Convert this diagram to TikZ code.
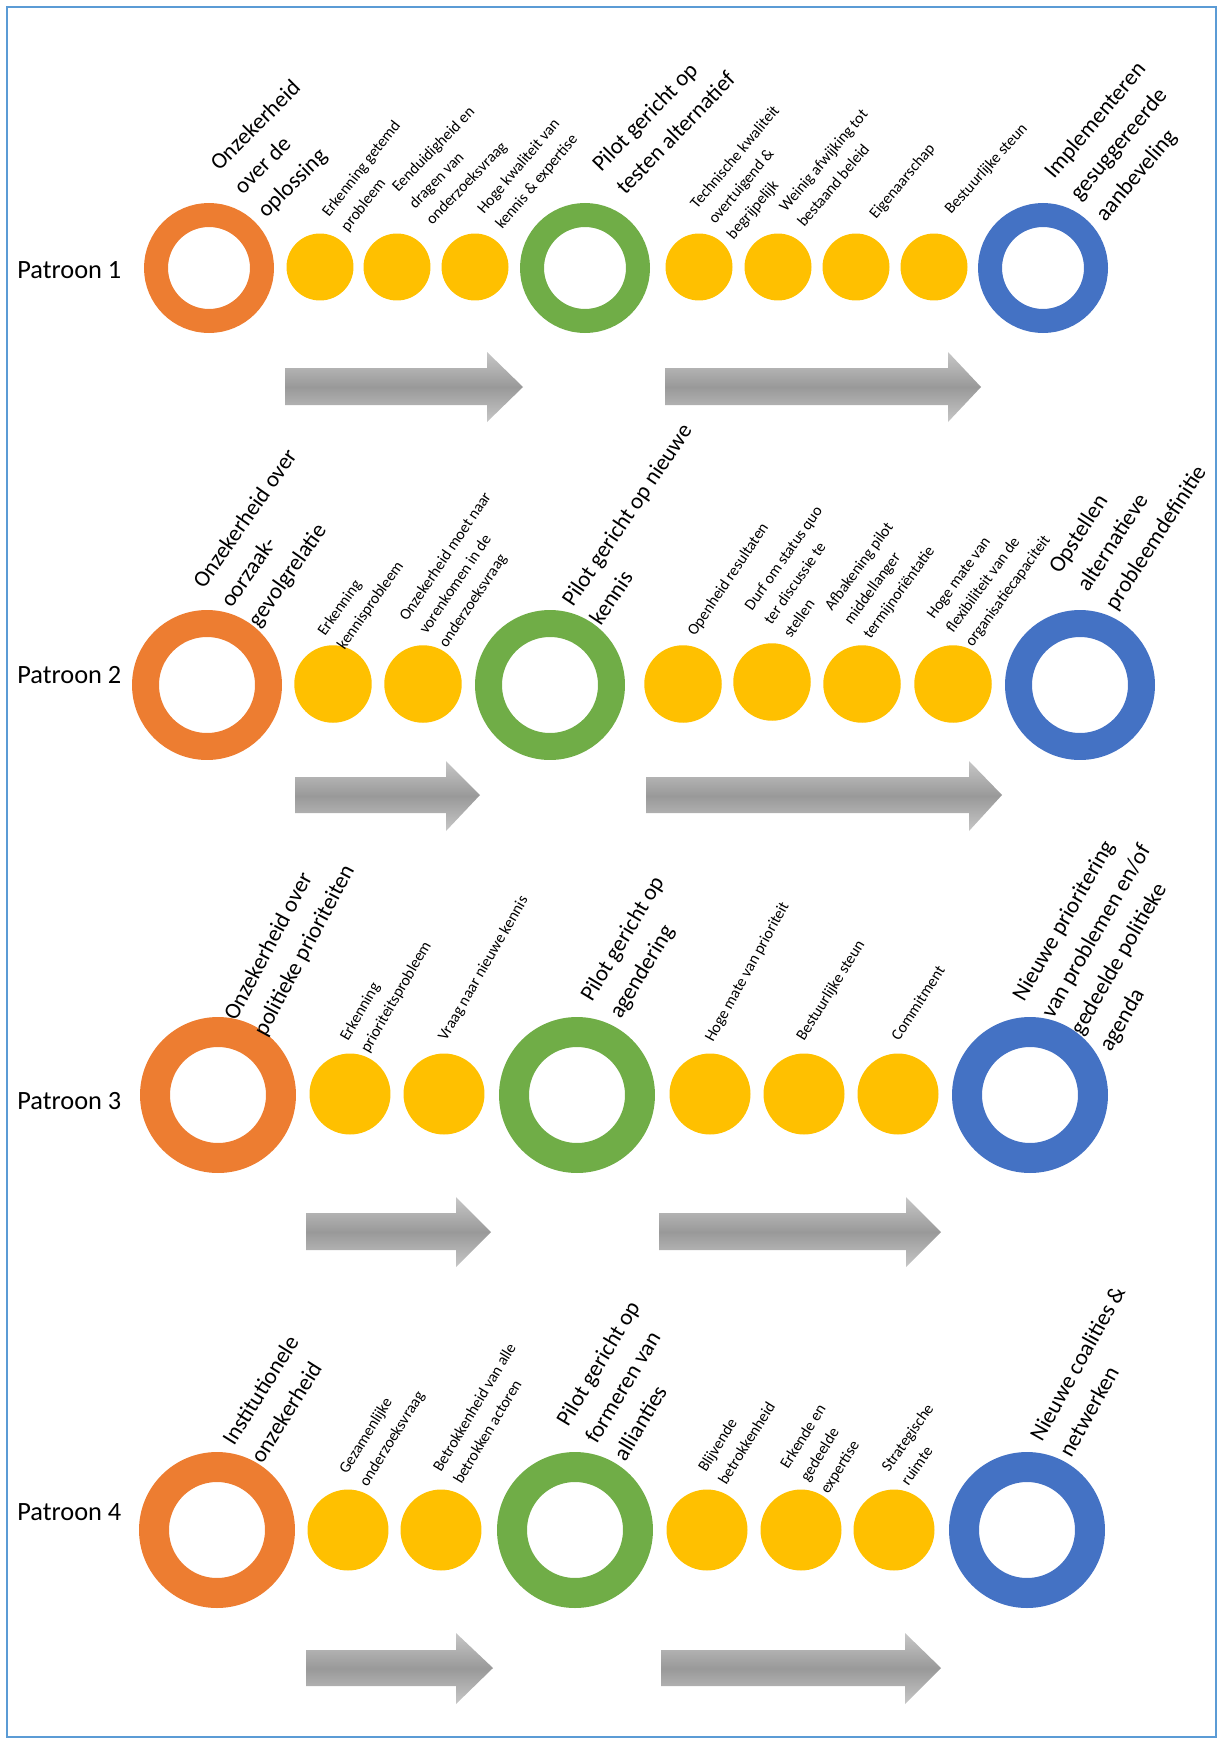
\documentclass[tikz,border=0pt]{standalone}
\usepackage{fontspec}
\setmainfont{Carlito}
\definecolor{ringorange}{RGB}{237,125,49}
\definecolor{ringgreen}{RGB}{112,173,71}
\definecolor{ringblue}{RGB}{68,114,196}
\definecolor{dotyellow}{RGB}{255,192,0}
\definecolor{frameblue}{RGB}{91,155,213}
\newcommand{\lbllines}[1]{\begin{tabular}[t]{@{}l@{}}#1\end{tabular}}

\tikzset{
  ring/.style={circle, draw, inner sep=0pt},
  yellowdot/.style={circle, fill=dotyellow, inner sep=0pt},
  biglbl/.style={rotate=#1, anchor=base west, inner sep=0pt, font=\fontsize{13}{19}\selectfont},
  smalllbl/.style={rotate=#1, anchor=base west, inner sep=0pt, font=\fontsize{9}{13.5}\selectfont},
  patroon/.style={anchor=west, inner sep=0pt, font=\fontsize{15}{18}\selectfont},
  blockarrow/.style={top color=black!22, bottom color=black!22, middle color=black!40},
}

\begin{document}
\begin{tikzpicture}[x=0.02cm, y=-0.02cm]

  \useasboundingbox (0,0) rectangle (1223,1744);
  % Frame
  \draw[frameblue, line width=0.8pt] (7,7) rectangle (1216,1737);

  % ---- Patroon 1 ----
  \node[patroon] (pat1) at (17,270) {Patroon 1};
  \node[ring, draw=ringorange, line width=0.48cm, minimum size=2.12cm] (o1) at (209,268) {};
  \node[ring, draw=ringgreen,  line width=0.48cm, minimum size=2.12cm] (g1) at (585,268) {};
  \node[ring, draw=ringblue,   line width=0.48cm, minimum size=2.12cm] (b1) at (1043,268) {};
  \node[yellowdot, minimum size=1.34cm] (y1a) at (320,267) {};
  \node[yellowdot, minimum size=1.34cm] (y1b) at (397,267) {};
  \node[yellowdot, minimum size=1.34cm] (y1c) at (475,267) {};
  \node[yellowdot, minimum size=1.34cm] (y1d) at (699,267) {};
  \node[yellowdot, minimum size=1.34cm] (y1e) at (778,267) {};
  \node[yellowdot, minimum size=1.34cm] (y1f) at (856,267) {};
  \node[yellowdot, minimum size=1.34cm] (y1g) at (934,267) {};
  % Labels
  \node[biglbl=45]   (lo1)  at (219,172) {\lbllines{Onzekerheid\\over de\\oplossing}};
  \node[smalllbl=52] (ly1a) at (329,218) {\lbllines{Erkenning getemd\\probleem}};
  \node[smalllbl=46] (ly1b) at (398,193) {\lbllines{Eenduidigheid en\\dragen van\\onderzoeksvraag}};
  \node[smalllbl=50] (ly1c) at (484,215) {\lbllines{Hoge kwaliteit van\\kennis \& expertise}};
  \node[biglbl=46]   (lg1)  at (601,173) {\lbllines{Pilot gericht op\\testen alternatief}};
  \node[smalllbl=50] (ly1d) at (697,210) {\lbllines{Technische kwaliteit\\overtuigend \&\\begrijpelijk}};
  \node[smalllbl=50] (ly1e) at (786,213) {\lbllines{Weinig afwijking tot\\bestaand beleid}};
  \node[smalllbl=50] (ly1f) at (876,220) {Eigenaarschap};
  \node[smalllbl=48] (ly1g) at (951,215) {Bestuurlijke steun};
  \node[biglbl=50]   (lb1)  at (1054,180) {\lbllines{Implementeren\\gesuggereerde\\aanbeveling}};
  % Arrows
  \shade[blockarrow] (285,368) -- (487,368) -- (487,352) -- (523,387) -- (487,422) -- (487,405) -- (285,405) -- cycle;
  \shade[blockarrow] (665,368) -- (948,368) -- (948,352) -- (981,387) -- (948,422) -- (948,405) -- (665,405) -- cycle;

  % ---- Patroon 2 ----
  \node[patroon] (pat2) at (17,675) {Patroon 2};
  \node[ring, draw=ringorange, line width=0.54cm, minimum size=2.46cm] (o2) at (207,685) {};
  \node[ring, draw=ringgreen,  line width=0.54cm, minimum size=2.46cm] (g2) at (550,685) {};
  \node[ring, draw=ringblue,   line width=0.54cm, minimum size=2.46cm] (b2) at (1080,685) {};
  \node[yellowdot, minimum size=1.55cm] (y2a) at (333,684) {};
  \node[yellowdot, minimum size=1.55cm] (y2b) at (423,684) {};
  \node[yellowdot, minimum size=1.55cm] (y2c) at (683,684) {};
  \node[yellowdot, minimum size=1.55cm] (y2d) at (772,682) {};
  \node[yellowdot, minimum size=1.55cm] (y2e) at (862,684) {};
  \node[yellowdot, minimum size=1.55cm] (y2f) at (953,684) {};
  % Labels
  \node[biglbl=55]   (lo2)  at (204,590) {\lbllines{Onzekerheid over\\oorzaak-\\gevolgrelatie}};
  \node[smalllbl=55] (ly2a) at (325,637) {\lbllines{Erkenning\\kennisprobleem}};
  \node[smalllbl=56] (ly2b) at (407,622) {\lbllines{Onzekerheid moet naar\\vorenkomen in de\\onderzoeksvraag}};
  \node[biglbl=56]   (lg2)  at (573,608) {\lbllines{Pilot gericht op nieuwe\\kennis}};
  \node[smalllbl=56] (ly2c) at (695,637) {Openheid resultaten};
  \node[smalllbl=55] (ly2d) at (752,612) {\lbllines{Durf om status quo\\ter discussie te\\stellen}};
  \node[smalllbl=54] (ly2e) at (832,612) {\lbllines{Afbakening pilot\\middellanger\\termijnoriëntatie}};
  \node[smalllbl=54] (ly2f) at (934,620) {\lbllines{Hoge mate van\\flexibiliteit van de\\organisatiecapaciteit}};
  \node[biglbl=57]   (lb2)  at (1060,575) {\lbllines{Opstellen\\alternatieve\\probleemdefinitie}};
  % Arrows
  \shade[blockarrow] (295,777) -- (446,777) -- (446,761) -- (480,795) -- (446,831) -- (446,813) -- (295,813) -- cycle;
  \shade[blockarrow] (646,777) -- (969,777) -- (969,761) -- (1002,795) -- (969,831) -- (969,813) -- (646,813) -- cycle;

  % ---- Patroon 3 ----
  \node[patroon] (pat3) at (17,1101) {Patroon 3};
  \node[ring, draw=ringorange, line width=0.60cm, minimum size=2.52cm] (o3) at (218,1095) {};
  \node[ring, draw=ringgreen,  line width=0.60cm, minimum size=2.52cm] (g3) at (577,1095) {};
  \node[ring, draw=ringblue,   line width=0.60cm, minimum size=2.52cm] (b3) at (1030,1095) {};
  \node[yellowdot, minimum size=1.62cm] (y3a) at (350,1094) {};
  \node[yellowdot, minimum size=1.62cm] (y3b) at (444,1094) {};
  \node[yellowdot, minimum size=1.62cm] (y3c) at (710,1094) {};
  \node[yellowdot, minimum size=1.62cm] (y3d) at (804,1094) {};
  \node[yellowdot, minimum size=1.62cm] (y3e) at (898,1094) {};
  % Labels
  \node[biglbl=62]   (lo3)  at (236,1022) {\lbllines{Onzekerheid over\\politieke prioriteiten}};
  \node[smalllbl=60] (ly3a) at (348,1042) {\lbllines{Erkenning\\prioriteitsprobleem}};
  \node[smalllbl=60] (ly3b) at (446,1042) {Vraag naar nieuwe kennis};
  \node[biglbl=59]   (lg3)  at (592,1003) {\lbllines{Pilot gericht op\\agendering}};
  \node[smalllbl=61] (ly3c) at (713,1043) {Hoge mate van prioriteit};
  \node[smalllbl=58] (ly3d) at (804,1042) {Bestuurlijke steun};
  \node[smalllbl=57] (ly3e) at (899,1042) {Commitment};
  \node[biglbl=60]   (lb3)  at (1024,1003) {\lbllines{Nieuwe prioritering\\van problemen en/of\\gedeelde politieke\\agenda}};
  % Arrows
  \shade[blockarrow] (306,1213) -- (456,1213) -- (456,1197) -- (491,1232) -- (456,1267) -- (456,1250) -- (306,1250) -- cycle;
  \shade[blockarrow] (659,1213) -- (906,1213) -- (906,1197) -- (941,1232) -- (906,1267) -- (906,1250) -- (659,1250) -- cycle;

  % ---- Patroon 4 ----
  \node[patroon] (pat4) at (17,1512) {Patroon 4};
  \node[ring, draw=ringorange, line width=0.60cm, minimum size=2.52cm] (o4) at (217,1530) {};
  \node[ring, draw=ringgreen,  line width=0.60cm, minimum size=2.52cm] (g4) at (575,1530) {};
  \node[ring, draw=ringblue,   line width=0.60cm, minimum size=2.52cm] (b4) at (1027,1530) {};
  \node[yellowdot, minimum size=1.62cm] (y4a) at (348,1530) {};
  \node[yellowdot, minimum size=1.62cm] (y4b) at (441,1530) {};
  \node[yellowdot, minimum size=1.62cm] (y4c) at (707,1530) {};
  \node[yellowdot, minimum size=1.62cm] (y4d) at (801,1530) {};
  \node[yellowdot, minimum size=1.62cm] (y4e) at (894,1530) {};
  % Labels
  \node[biglbl=58]   (lo4)  at (234,1447) {\lbllines{Institutionele\\onzekerheid}};
  \node[smalllbl=58] (ly4a) at (347,1475) {\lbllines{Gezamenlijke\\onderzoeksvraag}};
  \node[smalllbl=59] (ly4b) at (441,1473) {\lbllines{Betrokkenheid van alle\\betrokken actoren}};
  \node[biglbl=59]   (lg4)  at (568,1428) {\lbllines{Pilot gericht op\\formeren van\\allianties}};
  \node[smalllbl=58] (ly4c) at (706,1473) {\lbllines{Blijvende\\betrokkenheid}};
  \node[smalllbl=58] (ly4d) at (788,1470) {\lbllines{Erkende en\\gedeelde\\expertise}};
  \node[smalllbl=55] (ly4e) at (889,1473) {\lbllines{Strategische\\ruimte}};
  \node[biglbl=61]   (lb4)  at (1042,1443) {\lbllines{Nieuwe coalities \&\\netwerken}};
  % Arrows
  \shade[blockarrow] (306,1650) -- (456,1650) -- (456,1633) -- (493,1668) -- (456,1704) -- (456,1686) -- (306,1686) -- cycle;
  \shade[blockarrow] (661,1650) -- (905,1650) -- (905,1633) -- (941,1668) -- (905,1704) -- (905,1686) -- (661,1686) -- cycle;

\end{tikzpicture}
\end{document}
